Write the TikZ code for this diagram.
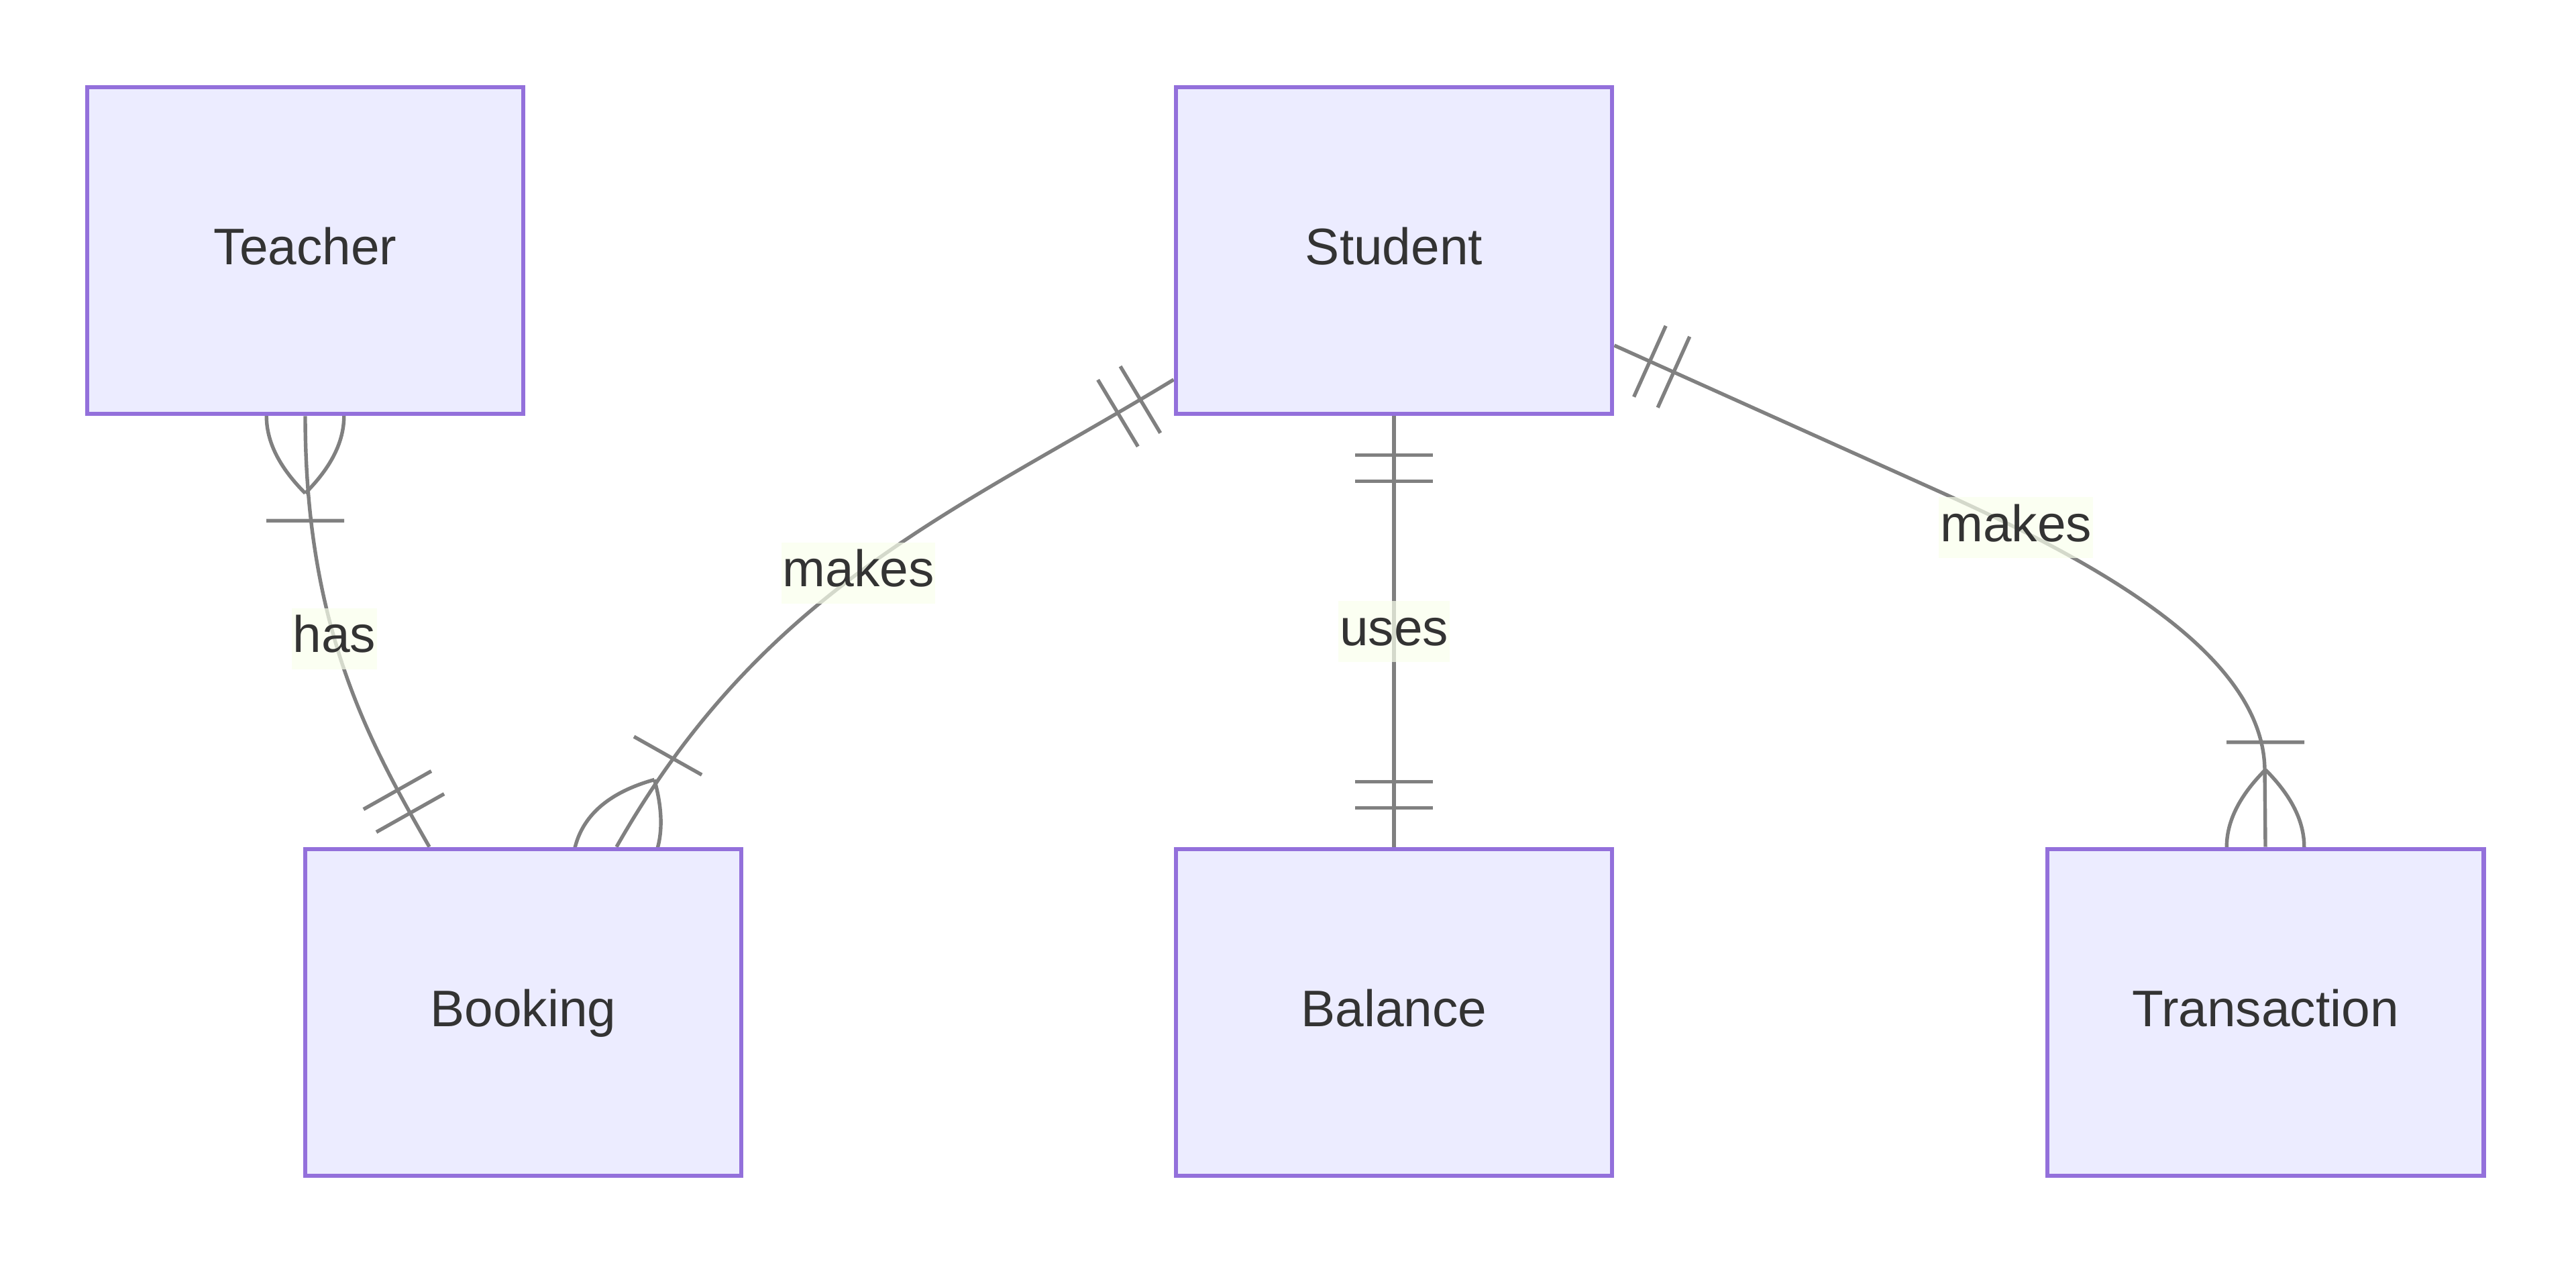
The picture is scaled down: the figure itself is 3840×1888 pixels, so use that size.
\documentclass[tikz,border=0pt]{standalone}
\usepackage{fontspec}
\setmainfont{Liberation Sans}
\usetikzlibrary{calc}
\definecolor{entfill}{HTML}{ECECFF}
\definecolor{entline}{HTML}{9370DB}
\definecolor{relline}{HTML}{808080}
\definecolor{lblfill}{HTML}{F9FFEC}
\definecolor{txtgray}{HTML}{333333}
\pgfdeclarelayer{bg}
\pgfsetlayers{bg,main}

\begin{document}
\begin{tikzpicture}[x=0.01cm, y=-0.01cm,
        font=\fontsize{21.8pt}{26pt}\selectfont, text=txtgray,
        entity/.style={draw=entline, fill=entfill, line width=0.065cm,
            minimum width=6.5cm, minimum height=4.87cm,
            text height=0.66cm, text depth=0.25cm},
        rel/.style={draw=relline, line width=0.054cm},
        lbl/.style={fill=lblfill, fill opacity=0.7, text opacity=1,
            inner xsep=0.02cm, inner ysep=0pt,
            text height=0.66cm, text depth=0.25cm}]
    \useasboundingbox (0,0) rectangle (3840,1888);
    % entities
    \node[entity] (teacher) at (455,373.5) {Teacher};
    \node[entity] (student) at (2078,373.5) {Student};
    \node[entity] (booking) at (780,1509.5) {Booking};
    \node[entity] (balance) at (2078,1509.5) {Balance};
    \node[entity] (transaction) at (3377,1509.5) {Transaction};
    % where the relations meet the boxes
    \coordinate (bookHas) at ($(booking.north)+(-140,0)$);
    \coordinate (bookMakes) at ($(booking.north)+(139,0)$);
    \coordinate (stuLeft) at ($(student.west)+(0,192.5)$);
    \coordinate (stuRight) at ($(student.east)+(0,141.5)$);
    \begin{pgfonlayer}{bg}
        \draw[rel] (teacher.south) .. controls (455,937) and (552,1109) .. (bookHas)
            node[lbl, pos=0.42] {has};
        \draw[rel] (bookMakes) .. controls (1140,874) and (1427,762) .. (stuLeft)
            node[lbl, pos=0.48] {makes};
        \draw[rel] (student.south) -- (balance.north) node[lbl, midway] {uses};
        \draw[rel] (stuRight) -- (2880,728) .. controls (3108,830) and (3376,970) .. (3376,1150)
            node[lbl, pos=0.18] {makes} -- (transaction.north);
        % one or more
        \foreach \e/\a in {teacher.south/-90, bookMakes/60.6, transaction.north/90}
            \draw[rel, shift={(\e)}, rotate=\a] (156,-58) -- (156,58)
                (115,0) .. controls (38,77) and (-38,77) .. (-115,0)
                .. controls (-38,-77) and (38,-77) .. (115,0);
        % exactly one
        \foreach \e/\a in {bookHas/119.4, stuLeft/-149, student.south/-90, balance.north/90, stuRight/-24.2}
            \draw[rel, shift={(\e)}, rotate=\a] (58,-58) -- (58,58) (97,-58) -- (97,58);
    \end{pgfonlayer}
\end{tikzpicture}
\end{document}
